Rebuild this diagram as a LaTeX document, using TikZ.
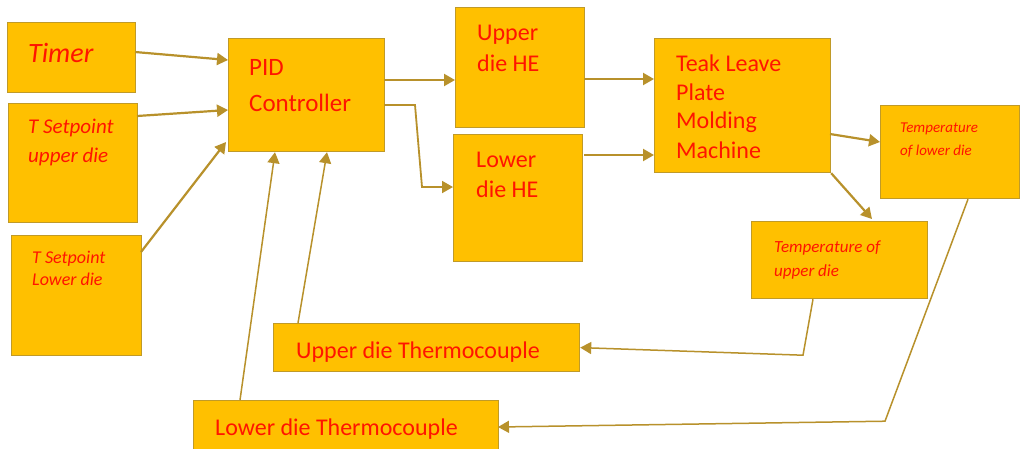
\documentclass[tikz,border=0pt]{standalone}
\usepackage{fontspec}
\setmainfont{Carlito}
\usetikzlibrary{arrows.meta,calc}
\definecolor{boxfill}{HTML}{FFC000}
\definecolor{boxline}{HTML}{C09A28}
\definecolor{conn}{HTML}{B8912B}
\definecolor{txtred}{HTML}{FF1400}
\tikzset{
  blk/.style={draw=boxline,fill=boxfill,line width=1.2pt,inner sep=0pt,anchor=north west},
  lbl/.style={anchor=base west,inner sep=0pt,text=txtred},
  reg/.style={lbl,font=\fontsize{24}{29}\selectfont},
  itl/.style={lbl,font=\fontsize{#1}{#1}\selectfont\itshape},
  flow/.style={draw=conn,line width=2.2pt,-{Triangle[length=11pt,width=12pt]}},
  fb/.style={draw=conn,line width=1.5pt,-{Triangle[length=11pt,width=12pt]}},
}
\begin{document}
\begin{tikzpicture}[x=1pt,y=-1pt]
\useasboundingbox[fill=white] (0,0) rectangle (1025,448);
\clip (0,0) rectangle (1025,448);
% boxes
\node[blk,minimum width=128pt,minimum height=70pt] (timer) at (7,22) {};
\node[blk,minimum width=129pt,minimum height=119pt] (spu) at (8,103) {};
\node[blk,minimum width=130pt,minimum height=120pt] (spl) at (11,235) {};
\node[blk,minimum width=156pt,minimum height=113pt] (pid) at (228,38) {};
\node[blk,minimum width=129pt,minimum height=120pt] (uhe) at (455,7) {};
\node[blk,minimum width=129pt,minimum height=127pt] (lhe) at (453,134) {};
\node[blk,minimum width=176pt,minimum height=134pt] (teak) at (654,38) {};
\node[blk,minimum width=139pt,minimum height=93pt] (tlow) at (880,105) {};
\node[blk,minimum width=176pt,minimum height=77pt] (tup) at (751,221) {};
\node[blk,minimum width=306pt,minimum height=48pt] (utc) at (273,323) {};
\node[blk,minimum width=305pt,minimum height=60pt] (ltc) at (193,400) {};
% texts
\node[itl=28] (timerT) at (28,62) {Timer};
\node[itl=21] (spuT1) at (28,133) {T Setpoint};
\node[itl=21] (spuT2) at (28,162) {upper die};
\node[itl=18] (splT1) at (32,263) {T Setpoint};
\node[itl=18] (splT2) at (32,285) {Lower die};
\node[reg,font=\fontsize{25}{29}\selectfont] (pidT1) at (249,75) {PID};
\node[reg,font=\fontsize{25}{29}\selectfont] (pidT2) at (249,111) {Controller};
\node[reg] (uheT1) at (477,40) {Upper};
\node[reg] (uheT2) at (477,71) {die HE};
\node[reg] (lheT1) at (476,167) {Lower};
\node[reg] (lheT2) at (476,197) {die HE};
\node[reg] (teakT1) at (676,71) {Teak Leave};
\node[reg] (teakT2) at (676,100) {Plate};
\node[reg] (teakT3) at (676,128) {Molding};
\node[reg] (teakT4) at (676,158) {Machine};
\node[itl=15] (tlowT1) at (900,132) {Temperature};
\node[itl=15] (tlowT2) at (900,155) {of lower die};
\node[itl=17] (tupT1) at (774,252) {Temperature of};
\node[itl=17] (tupT2) at (774,276) {upper die};
\node[reg] (utcT) at (296,358) {Upper die Thermocouple};
\node[reg] (ltcT) at (215,435) {Lower die Thermocouple};
% connectors
\draw[flow] ($(timer.north west)+(128,30)$) -- ($(pid.north west)+(0,22)$);
\draw[flow] ($(spu.north west)+(129,13)$) -- ($(pid.north west)+(0,72)$);
\draw[flow] ($(spl.north west)+(130,17)$) -- ($(pid.north west)+(-2,104)$);
\draw[fb] ($(ltc.north west)+(47,0)$) -- ($(pid.south west)+(47,0)$);
\draw[fb] ($(utc.north west)+(25,0)$) -- ($(pid.south west)+(99,0)$);
\draw[flow] ($(pid.north west)+(156,42)$) -- ($(uhe.north west)+(0,73)$);
\draw[flow,line width=1.8pt] ($(pid.north west)+(156,67)$) -- ($(lhe.north west)+(-38,-29)$)
   -- ($(lhe.north west)+(-31,53)$) -- ($(lhe.north west)+(0,53)$);
\draw[flow] ($(uhe.north west)+(129,72)$) -- ($(teak.north west)+(0,41)$);
\draw[flow] ($(lhe.north west)+(131,21)$) -- ($(teak.north west)+(0,117)$);
\draw[flow] ($(teak.north west)+(176,96)$) -- ($(tlow.north west)+(0,37)$);
\draw[flow] (teak.south east) -- ($(tup.north west)+(121,-2)$);
\draw[fb] ($(tup.south west)+(62,0)$) -- ($(tup.south west)+(52,56)$) -- (utc.east);
\draw[fb] ($(tlow.south west)+(88,0)$) -- ($(tlow.south west)+(5,222)$) -- ($(ltc.north west)+(305,27)$);
\end{tikzpicture}
\end{document}
